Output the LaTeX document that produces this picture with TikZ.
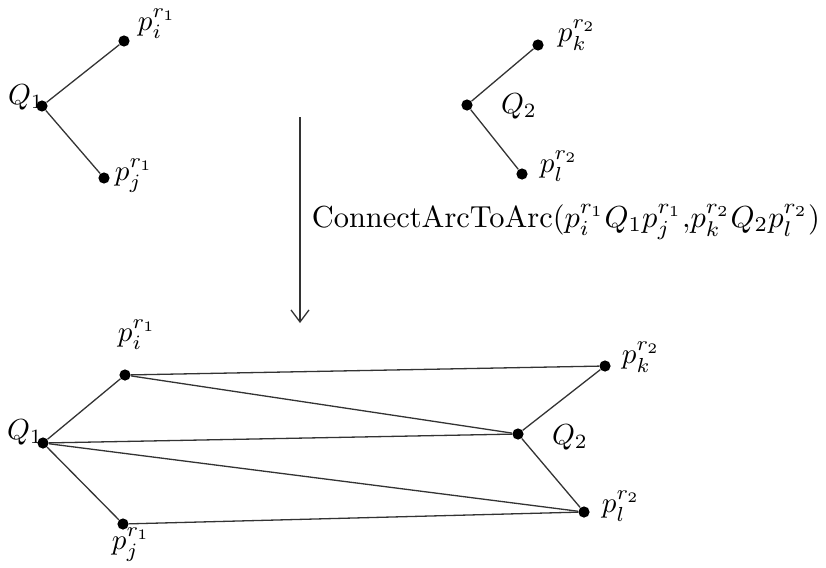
\documentclass[tikz,border=0pt]{standalone}
\usetikzlibrary{arrows.meta}
\newcommand{\mysz}[2]{\scalebox{#1}{\fontsize{10}{12}\selectfont #2}}
\begin{document}
\begin{tikzpicture}[x=0.5pt,y=-0.5pt,
  pt/.style={circle,fill=black,inner sep=0pt,minimum size=5.6pt},
  lbl/.style={inner sep=0pt},
  edge/.style={draw=black!80,line width=0.65pt}]
\useasboundingbox (0,0) rectangle (826,568);
% top left
\node[pt] (tq1) at (42,106) {};
\node[pt] (tpi) at (124,41) {};
\node[pt] (tpj) at (104,178) {};
\node[lbl] (ltpi) at (157,24) {\mysz{1.45}{$p_i^{r_1}$}};
\node[lbl] (ltq1) at (26,97) {\mysz{1.45}{$Q_1$}};
\node[lbl] (ltpj) at (134,176) {\mysz{1.45}{$p_j^{r_1}$}};
\draw[edge] (tpi) -- (tq1) -- (tpj);
% top right
\node[pt] (tq2) at (467,105) {};
\node[pt] (tpk) at (538,45) {};
\node[pt] (tpl) at (522,174) {};
\node[lbl] (ltpk) at (577,35) {\mysz{1.45}{$p_k^{r_2}$}};
\node[lbl] (ltq2) at (519,106) {\mysz{1.45}{$Q_2$}};
\node[lbl] (ltpl) at (559,166) {\mysz{1.45}{$p_l^{r_2}$}};
\draw[edge] (tpk) -- (tq2) -- (tpl);
% arrow
\coordinate (as) at (300,117);
\coordinate (ae) at (300,323);
\draw[edge,-{Straight Barb[length=6pt,width=9pt]}] (as) -- (ae);
\node[inner sep=0pt] (txt) at (566,222)
  {\mysz{1.52}{ConnectArcToArc$(p_i^{r_1}Q_1p_j^{r_1}{,}p_k^{r_2}Q_2p_l^{r_2})$}};
% bottom
\node[pt] (bq1) at (43,443) {};
\node[pt] (bpi) at (125,375) {};
\node[pt] (bpj) at (123,524) {};
\node[pt] (bq2) at (518,434) {};
\node[pt] (bpk) at (605,366) {};
\node[pt] (bpl) at (584,512) {};
\node[lbl] (lbpi) at (137,335) {\mysz{1.45}{$p_i^{r_1}$}};
\node[lbl] (lbq1) at (25,432) {\mysz{1.45}{$Q_1$}};
\node[lbl] (lbpj) at (131,545) {\mysz{1.45}{$p_j^{r_1}$}};
\node[lbl] (lbpk) at (641,357) {\mysz{1.45}{$p_k^{r_2}$}};
\node[lbl] (lbq2) at (570,437) {\mysz{1.45}{$Q_2$}};
\node[lbl] (lbpl) at (621,506) {\mysz{1.45}{$p_l^{r_2}$}};
\draw[edge] (bpi) -- (bq1) -- (bpj);
\draw[edge] (bpk) -- (bq2) -- (bpl);
\draw[edge] (bpi) -- (bpk);
\draw[edge] (bpi) -- (bq2);
\draw[edge] (bq1) -- (bq2);
\draw[edge] (bq1) -- (bpl);
\draw[edge] (bpj) -- (bpl);
\end{tikzpicture}
\end{document}
